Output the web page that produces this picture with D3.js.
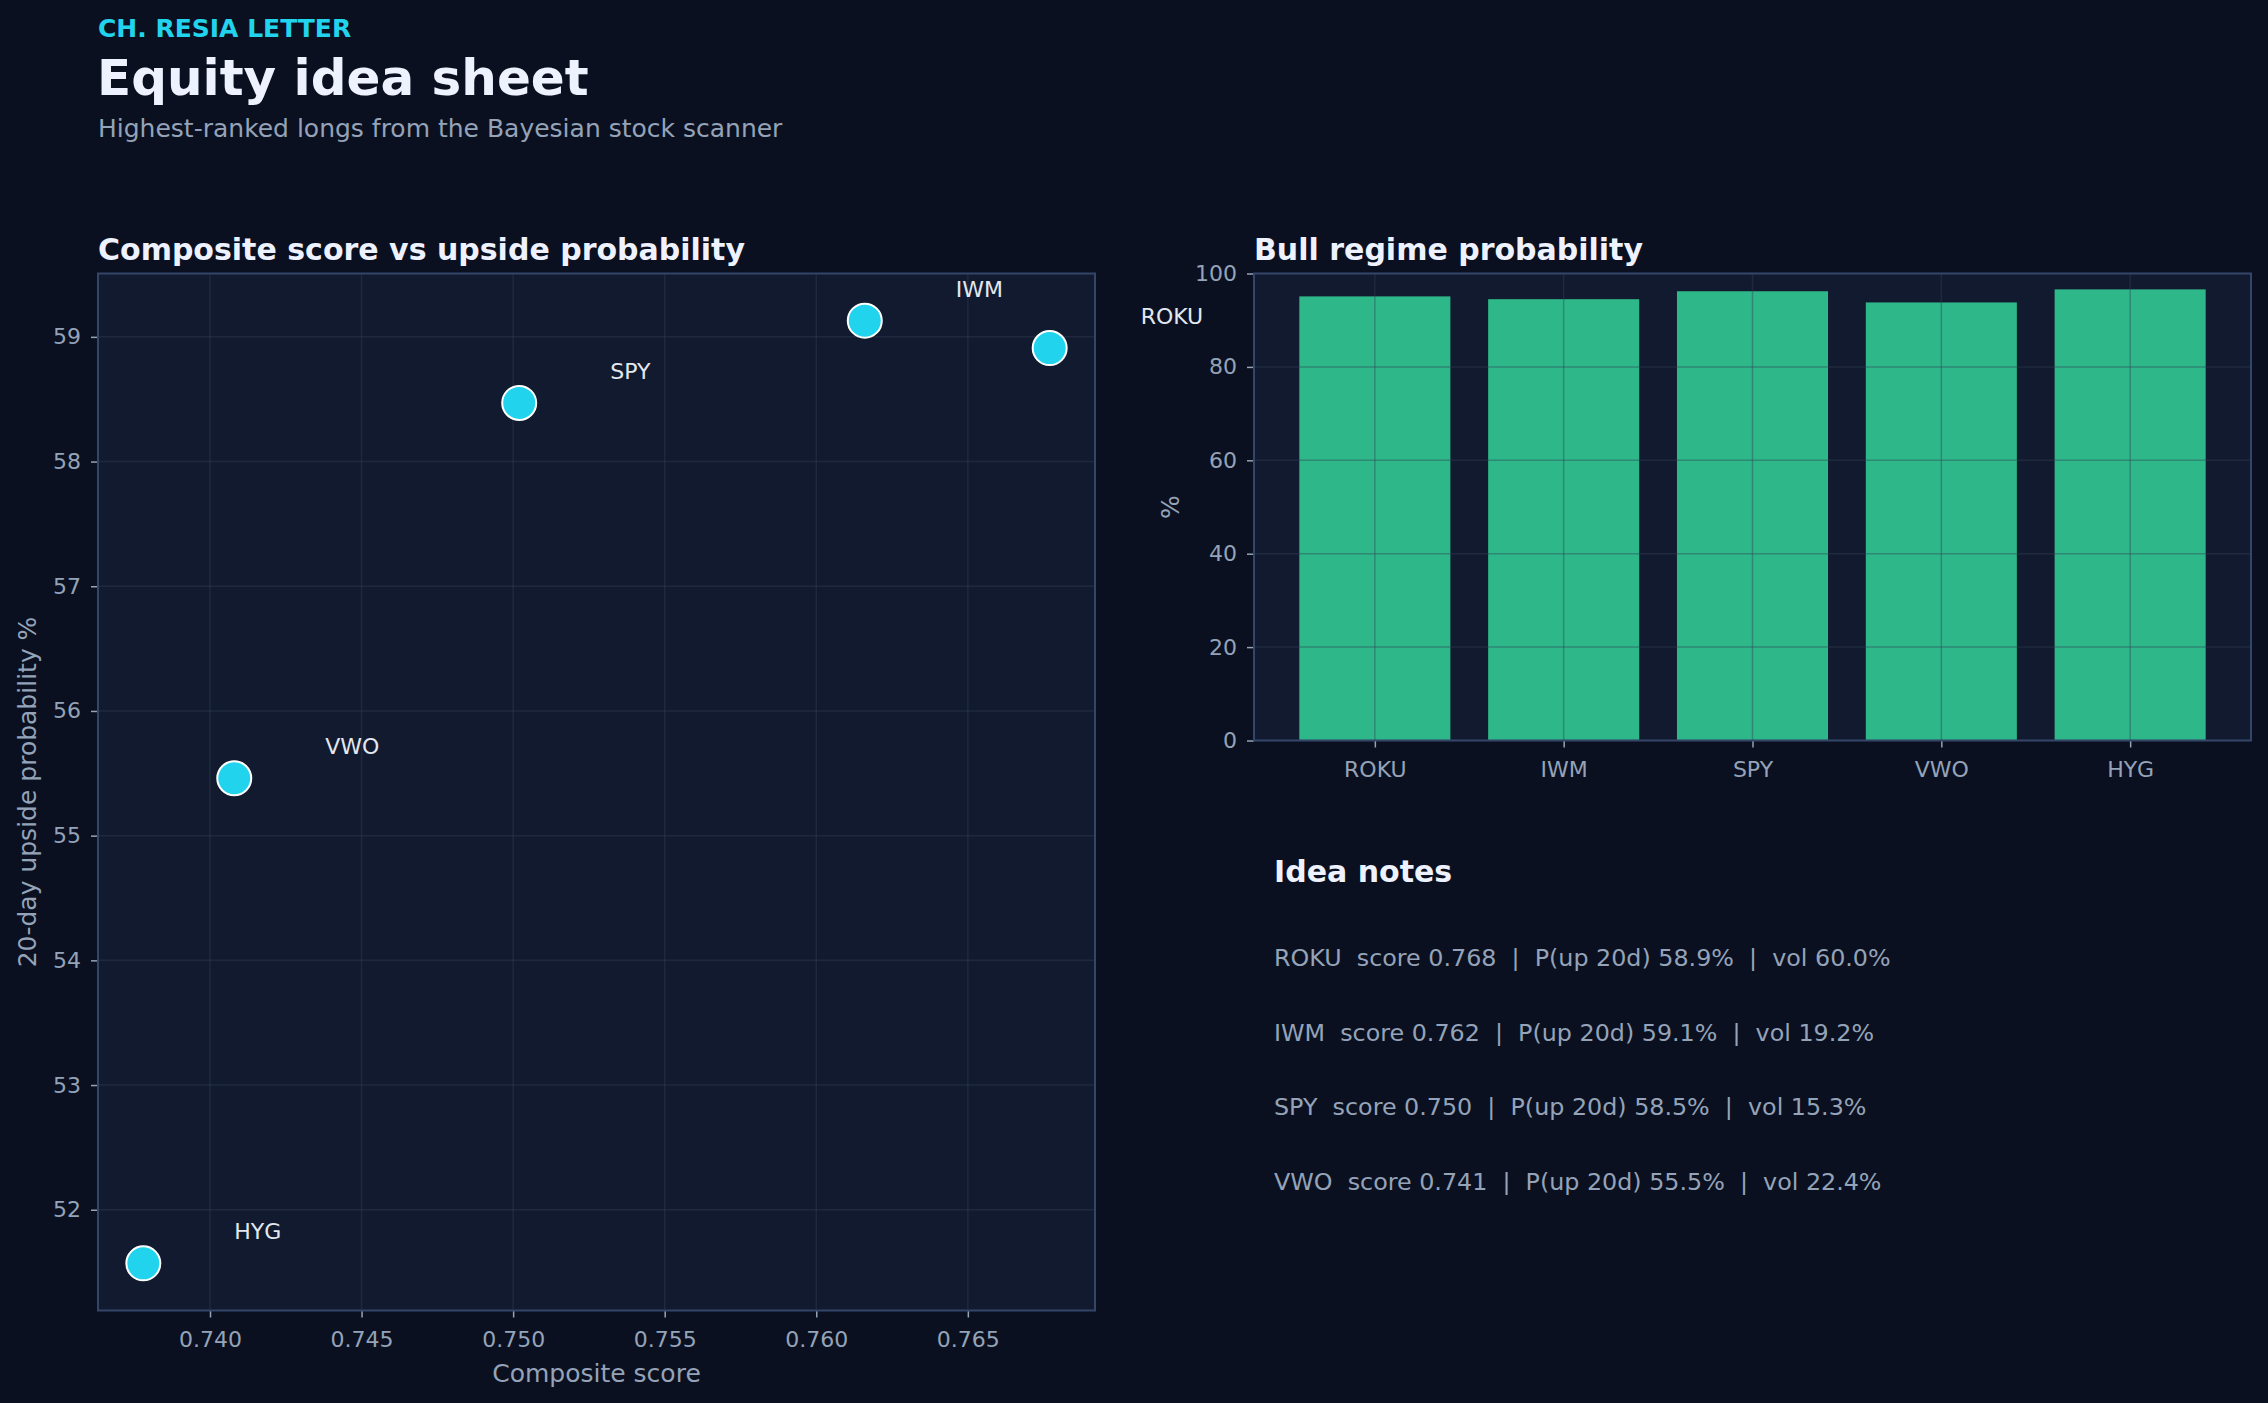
<!DOCTYPE html>
<html>
<head>
<meta charset="utf-8">
<script src="https://cdn.jsdelivr.net/npm/d3@7/dist/d3.min.js"></script>
<style>
  html, body { margin: 0; padding: 0; background: #0b1020; }
  svg { display: block; font-family: "DejaVu Sans", sans-serif; }
</style>
</head>
<body>
<svg id="chart" width="2268" height="1403"></svg>
<script>
// ---- data ----
const tickers = ["ROKU", "IWM", "SPY", "VWO", "HYG"];
const scores = [0.7677, 0.7616, 0.7502, 0.7408, 0.7378];
const upProb = [58.91, 59.13, 58.47, 55.46, 51.57];
const bullProb = [95.1, 94.5, 96.2, 93.8, 96.6];
const vols = [60.0, 19.2, 15.3, 22.4];
const noteCount = 4;
const xTicks = [0.740, 0.745, 0.750, 0.755, 0.760, 0.765];
const yTicks = [52, 53, 54, 55, 56, 57, 58, 59];
const barTicks = [0, 20, 40, 60, 80, 100];

// ---- style ----
const C = {
  page: "#0b1020", panel: "#121a2f", spine: "#34456a", grid: "#334155",
  tick: "#94a3b8", title: "#eef2ff", accent: "#22d3ee", bar: "#34d399",
  label: "#e2e8f0"
};
const TICK_FS = 22;

const svg = d3.select("#chart");
svg.append("rect").attr("width", 2268).attr("height", 1403).attr("fill", C.page);

// header
svg.append("text").attr("x", 98).attr("y", 37).attr("fill", C.accent)
  .attr("font-size", 25).attr("font-weight", "bold").text("CH. RESIA LETTER");
svg.append("text").attr("x", 97).attr("y", 95).attr("fill", C.title)
  .attr("font-size", 50).attr("font-weight", "bold").text("Equity idea sheet");
svg.append("text").attr("x", 98).attr("y", 137).attr("fill", C.tick)
  .attr("font-size", 25).text("Highest-ranked longs from the Bayesian stock scanner");

function pad(ext, f) { const d = ext[1] - ext[0]; return [ext[0] - d * f, ext[1] + d * f]; }

// ---- scatter ----
const S = { l: 98, r: 1095, t: 273.5, b: 1310.5 };
const x = d3.scaleLinear().domain(pad(d3.extent(scores), 0.05)).range([S.l, S.r]);
const y = d3.scaleLinear().domain(pad(d3.extent(upProb), 0.05)).range([S.b, S.t]);

svg.append("text").attr("x", 98).attr("y", 260).attr("fill", C.title)
  .attr("font-size", 30).attr("font-weight", "bold").text("Composite score vs upside probability");

svg.append("rect").attr("x", S.l).attr("y", S.t).attr("width", S.r - S.l).attr("height", S.b - S.t)
  .attr("fill", C.panel);

const sg = svg.append("g");
sg.selectAll("line.vx").data(xTicks).join("line")
  .attr("x1", d => x(d)).attr("x2", d => x(d)).attr("y1", S.t).attr("y2", S.b)
  .attr("stroke", C.grid).attr("stroke-opacity", 0.4).attr("stroke-width", 1.5);
sg.selectAll("line.hy").data(yTicks).join("line")
  .attr("x1", S.l).attr("x2", S.r).attr("y1", d => y(d)).attr("y2", d => y(d))
  .attr("stroke", C.grid).attr("stroke-opacity", 0.4).attr("stroke-width", 1.5);

function styleAxis(g) {
  g.select(".domain").remove();
  g.selectAll(".tick line").attr("stroke", C.tick).attr("stroke-width", 1.5);
  g.selectAll(".tick text").attr("fill", C.tick).attr("font-size", TICK_FS)
    .attr("font-family", "DejaVu Sans, sans-serif");
}

svg.append("g").attr("transform", `translate(0,${S.b})`)
  .call(d3.axisBottom(x).tickValues(xTicks).tickFormat(d3.format(".3f")).tickSize(7).tickPadding(14))
  .call(styleAxis);
svg.append("g").attr("transform", `translate(${S.l},0)`)
  .call(d3.axisLeft(y).tickValues(yTicks).tickFormat(d3.format("d")).tickSize(7).tickPadding(10))
  .call(styleAxis);

svg.append("rect").attr("x", S.l).attr("y", S.t).attr("width", S.r - S.l).attr("height", S.b - S.t)
  .attr("fill", "none").attr("stroke", C.spine).attr("stroke-width", 2);

const pts = tickers.map((t, i) => ({ t, s: scores[i], p: upProb[i] }));
svg.append("g").selectAll("circle").data(pts).join("circle")
  .attr("cx", d => x(d.s)).attr("cy", d => y(d.p)).attr("r", 17)
  .attr("fill", C.accent).attr("stroke", "#ffffff").attr("stroke-width", 2);

svg.append("text").attr("x", (S.l + S.r) / 2).attr("y", 1382).attr("text-anchor", "middle")
  .attr("fill", C.tick).attr("font-size", 25).text("Composite score");
svg.append("text").attr("transform", `translate(27,${(S.t + S.b) / 2}) rotate(-90)`)
  .attr("text-anchor", "middle").attr("dominant-baseline", "central")
  .attr("fill", C.tick).attr("font-size", 25).text("20-day upside probability %");

// ---- bars ----
const B = { l: 1254, r: 2251, t: 273.5, b: 740.5 };
const bw = 0.8;
const xb = d3.scaleLinear().domain([-0.64, tickers.length - 1 + 0.64]).range([B.l, B.r]);
const yb = d3.scaleLinear().domain([0, 100]).range([B.b, B.t]);
const idx = tickers.map((_, i) => i);

svg.append("text").attr("x", 1254).attr("y", 260).attr("fill", C.title)
  .attr("font-size", 30).attr("font-weight", "bold").text("Bull regime probability");

svg.append("rect").attr("x", B.l).attr("y", B.t).attr("width", B.r - B.l).attr("height", B.b - B.t)
  .attr("fill", C.panel);

svg.append("g").selectAll("rect").data(idx).join("rect")
  .attr("x", i => xb(i - bw / 2)).attr("width", i => xb(i + bw / 2) - xb(i - bw / 2))
  .attr("y", i => yb(bullProb[i])).attr("height", i => yb(0) - yb(bullProb[i]))
  .attr("fill", C.bar).attr("fill-opacity", 0.85);

const bg = svg.append("g");
bg.selectAll("line.vx").data(idx).join("line")
  .attr("x1", d => xb(d)).attr("x2", d => xb(d)).attr("y1", B.t).attr("y2", B.b)
  .attr("stroke", C.grid).attr("stroke-opacity", 0.4).attr("stroke-width", 1.5);
bg.selectAll("line.hy").data(barTicks).join("line")
  .attr("x1", B.l).attr("x2", B.r).attr("y1", d => yb(d)).attr("y2", d => yb(d))
  .attr("stroke", C.grid).attr("stroke-opacity", 0.4).attr("stroke-width", 1.5);

svg.append("g").attr("transform", `translate(0,${B.b})`)
  .call(d3.axisBottom(xb).tickValues(idx).tickFormat(i => tickers[i]).tickSize(7).tickPadding(14))
  .call(styleAxis);
svg.append("g").attr("transform", `translate(${B.l},0)`)
  .call(d3.axisLeft(yb).tickValues(barTicks).tickFormat(d3.format("d")).tickSize(7).tickPadding(10))
  .call(styleAxis);

svg.append("rect").attr("x", B.l).attr("y", B.t).attr("width", B.r - B.l).attr("height", B.b - B.t)
  .attr("fill", "none").attr("stroke", C.spine).attr("stroke-width", 2);

svg.append("text").attr("transform", `translate(1170,${(B.t + B.b) / 2}) rotate(-90)`)
  .attr("text-anchor", "middle").attr("dominant-baseline", "central")
  .attr("fill", C.tick).attr("font-size", 25).text("%");

// scatter labels (drawn last; they may overflow the panel)
svg.append("g").selectAll("text").data(pts).join("text")
  .attr("x", d => x(d.s) + 91).attr("y", d => y(d.p) - 24)
  .attr("fill", C.label).attr("font-size", 22).text(d => d.t);

// ---- notes ----
svg.append("text").attr("x", 1274).attr("y", 882).attr("fill", C.title)
  .attr("font-size", 30).attr("font-weight", "bold").text("Idea notes");
const notes = d3.range(noteCount).map(i =>
  `${tickers[i]}  score ${scores[i].toFixed(3)}  |  P(up 20d) ${upProb[i].toFixed(1)}%  |  vol ${vols[i].toFixed(1)}%`);
svg.append("g").selectAll("text").data(notes).join("text")
  .attr("x", 1274).attr("y", (d, i) => 966 + i * 74.6)
  .attr("fill", C.tick).attr("font-size", 23.8).style("white-space", "pre")
  .attr("xml:space", "preserve").text(d => d);
</script>
</body>
</html>
